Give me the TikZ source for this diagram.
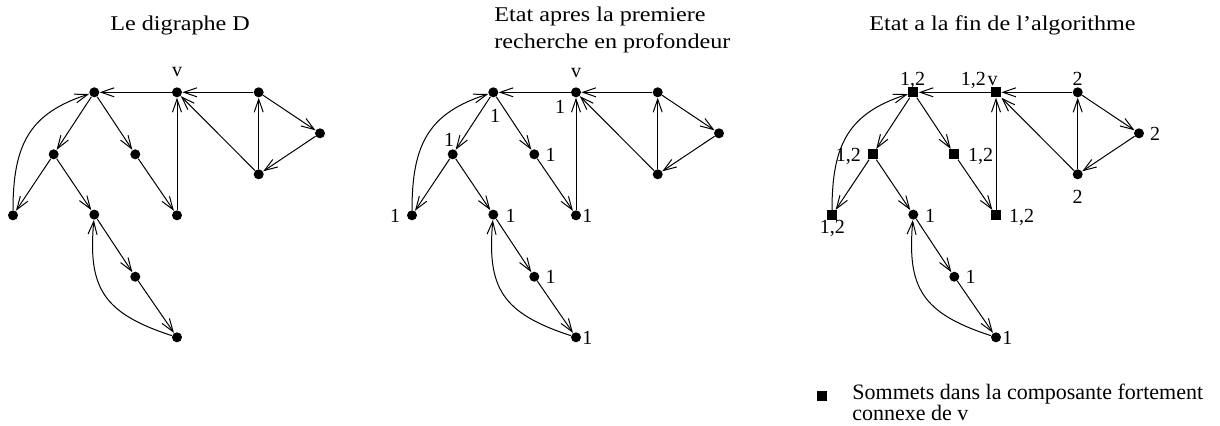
\documentclass[tikz,border=0pt]{standalone}
\usepackage{fontspec}
\setmainfont{Liberation Serif}
\newfontfamily\titlefont[FakeStretch=1.15,Ligatures=TeX]{Liberation Serif}
\usetikzlibrary{arrows.meta}
\tikzset{
  dot/.style={circle,fill=black,inner sep=0pt,minimum size=5pt},
  sq/.style={rectangle,fill=black,inner sep=0pt,minimum size=5pt},
  arr/.style={line width=0.5pt,-{Straight Barb[length=6.5pt,width=4.5pt,line width=0.5pt]}},
  lbl/.style={inner sep=0pt,font=\fontsize{10}{12}\selectfont,text height=6.8pt,text depth=0pt},
  ttl/.style={inner sep=0pt,anchor=base west,font=\titlefont\fontsize{10.5}{13}\selectfont},
  leg/.style={inner sep=0pt,anchor=base west,font=\fontsize{11}{13}\selectfont},
}
\newcommand\mygraphedges{%
  \draw[arr] (V) -- (A);
  \draw[arr] (R1) -- (V);
  \draw[arr] (R1) -- (R2);
  \draw[arr] (R2) -- (R3);
  \draw[arr] (R3) -- (R1);
  \draw[arr] (R3) -- (V);
  \draw[arr] (A) -- (B);
  \draw[arr] (A) -- (C);
  \draw[arr] (L) to[out=90,in=198,looseness=1.2] (A);
  \draw[arr] (B) -- (L);
  \draw[arr] (B) -- (D);
  \draw[arr] (C) -- (E);
  \draw[arr] (E) -- (V);
  \draw[arr] (D) -- (F);
  \draw[arr] (F) -- (G);
  \draw[arr] (G) to[out=162,in=265,looseness=1.3] (D);
}
\begin{document}
\begin{tikzpicture}[x=0.5pt,y=0.5pt]
\useasboundingbox (0,0) rectangle (1220,-425);

% titles
\node[ttl] (t1) at (110,-30) {Le digraphe D};
\node[ttl] (t2a) at (494,-21.7) {Etat apres la premiere};
\node[ttl] (t2b) at (494,-48.3) {recherche en profondeur};
\node[ttl] (t3) at (869,-30) {Etat a la fin de l’algorithme};

% graph 1
\begin{scope}[shift={(94.3,-92.3)},name prefix=g1]
  \node[dot] (A) at (0,0) {};
  \node[dot] (V) at (82.7,0) {};
  \node[dot] (R1) at (164.4,0) {};
  \node[dot] (R2) at (225.7,-41) {};
  \node[dot] (R3) at (164.4,-82) {};
  \node[dot] (B) at (-40.6,-62) {};
  \node[dot] (C) at (41,-62) {};
  \node[dot] (L) at (-81.3,-123) {};
  \node[dot] (D) at (0,-122.3) {};
  \node[dot] (E) at (82.7,-123) {};
  \node[dot] (F) at (41,-184.4) {};
  \node[dot] (G) at (82.7,-245) {};
  \mygraphedges
  \node[lbl] (lv) at (82.7,23) {v};
\end{scope}

% graph 2
\begin{scope}[shift={(493.3,-92.3)},name prefix=g2]
  \node[dot] (A) at (0,0) {};
  \node[dot] (V) at (82.7,0) {};
  \node[dot] (R1) at (164.4,0) {};
  \node[dot] (R2) at (225.7,-41) {};
  \node[dot] (R3) at (164.4,-82) {};
  \node[dot] (B) at (-40.6,-62) {};
  \node[dot] (C) at (41,-62) {};
  \node[dot] (L) at (-81.3,-123) {};
  \node[dot] (D) at (0,-122.3) {};
  \node[dot] (E) at (82.7,-123) {};
  \node[dot] (F) at (41,-184.4) {};
  \node[dot] (G) at (82.7,-245) {};
  \mygraphedges
  \node[lbl] (lv) at (82.7,22) {v};
  \node[lbl] (lA) at (1.7,-23.7) {1};
  \node[lbl] (lV) at (66.7,-14.4) {1};
  \node[lbl] (lB) at (-44.3,-47.7) {1};
  \node[lbl] (lC) at (57.4,-62) {1};
  \node[lbl] (lL) at (-98.3,-123) {1};
  \node[lbl] (lD) at (17.4,-123) {1};
  \node[lbl] (lE) at (94,-123) {1};
  \node[lbl] (lF) at (57.4,-184.4) {1};
  \node[lbl] (lG) at (94,-245) {1};
\end{scope}

% graph 3
\begin{scope}[shift={(913.3,-92.3)},name prefix=g3]
  \node[sq] (A) at (0,0) {};
  \node[sq] (V) at (82.7,0) {};
  \node[dot] (R1) at (164.4,0) {};
  \node[dot] (R2) at (225.7,-41) {};
  \node[dot] (R3) at (164.4,-82) {};
  \node[sq] (B) at (-40.6,-62) {};
  \node[sq] (C) at (41,-62) {};
  \node[sq] (L) at (-81.3,-123) {};
  \node[dot] (D) at (0,-122.3) {};
  \node[sq] (E) at (82.7,-123) {};
  \node[dot] (F) at (41,-184.4) {};
  \node[dot] (G) at (82.7,-245) {};
  \mygraphedges
  \node[lbl] (lA) at (-0.6,14) {1,2};
  \node[lbl] (lV) at (60,14) {1,2};
  \node[lbl] (lv) at (79.4,14) {v};
  \node[lbl] (lR1) at (164.4,14) {2};
  \node[lbl] (lR2) at (241.7,-41) {2};
  \node[lbl] (lR3) at (164.4,-104.4) {2};
  \node[lbl] (lB) at (-65,-62) {1,2};
  \node[lbl] (lC) at (67.4,-62) {1,2};
  \node[lbl] (lL) at (-81,-134.4) {1,2};
  \node[lbl] (lD) at (16.7,-123) {1};
  \node[lbl] (lE) at (108.4,-123) {1,2};
  \node[lbl] (lF) at (57.4,-184.4) {1};
  \node[lbl] (lG) at (94,-245) {1};
\end{scope}

% legend
\node[sq] (legsq) at (822,-396) {};
\node[leg] (leg1) at (852,-399.5) {Sommets dans la composante fortement};
\node[leg] (leg2) at (852,-420.5) {connexe de v};
\end{tikzpicture}
\end{document}
